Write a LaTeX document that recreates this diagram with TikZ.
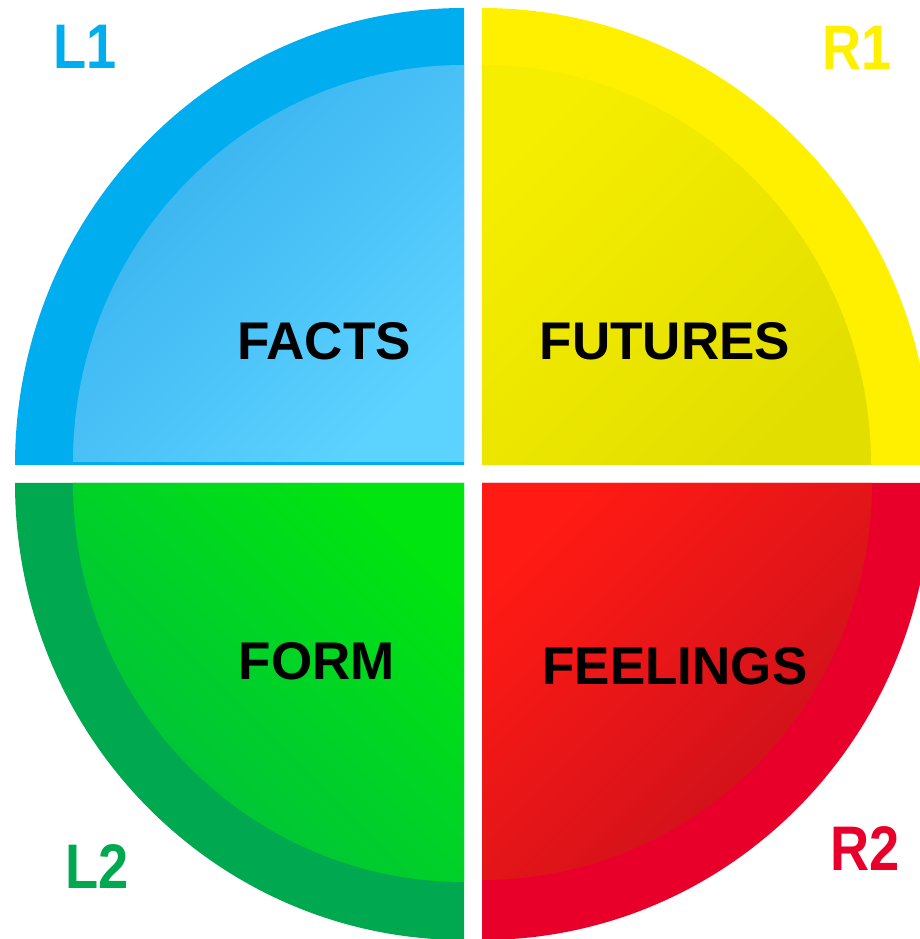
\documentclass[tikz,border=0pt]{standalone}
\usepackage{fontspec}
\setmainfont{Liberation Sans}
\usepackage{tikz}
\definecolor{azul}{HTML}{00AEEF}
\definecolor{amarillo}{HTML}{FFF000}
\definecolor{verde}{HTML}{00A84F}
\definecolor{rojo}{HTML}{E8002A}
\tikzstyle{texto}=[font=\fontsize{53}{60}\selectfont\bfseries, text=black, inner sep=0pt]
\tikzstyle{etiqueta}=[font=\fontsize{63}{70}\selectfont\bfseries, inner sep=0pt, xscale=0.86]

\begin{document}
\begin{tikzpicture}[x=1pt, y=1pt]
        \useasboundingbox (0,0) rectangle (920,939);
        \clip (0,0) rectangle (920,939);

        % cuadrantes exteriores
        \fill[azul] (464,474) -- (15,474) arc[start angle=180, end angle=90, x radius=449, y radius=457] -- cycle;
        \fill[amarillo] (482,474) -- (482,931) arc[start angle=90, end angle=0, x radius=449, y radius=457] -- cycle;
        \fill[verde] (464,456) -- (464,-1) arc[start angle=270, end angle=180, x radius=449, y radius=457] -- cycle;
        \fill[rojo] (482,456) -- (931,456) arc[start angle=0, end angle=-90, x radius=449, y radius=457] -- cycle;

        % cuadrantes interiores
        \shade[top color={rgb,255:red,54;green,176;blue,238}, bottom color={rgb,255:red,92;green,210;blue,255}, shading angle=45]
            (464,477) -- (73,477) arc[start angle=180, end angle=90, x radius=391, y radius=397] -- cycle;
        \shade[top color={rgb,255:red,246;green,238;blue,0}, bottom color={rgb,255:red,226;green,222;blue,0}, shading angle=45]
            (482,474) -- (482,874) arc[start angle=90, end angle=0, x radius=389, y radius=400] -- cycle;
        \shade[top color={rgb,255:red,0;green,228;blue,16}, bottom color={rgb,255:red,0;green,190;blue,64}, shading angle=-45]
            (464,456) -- (464,57) arc[start angle=270, end angle=180, x radius=391, y radius=399] -- cycle;
        \shade[top color={rgb,255:red,255;green,26;blue,20}, bottom color={rgb,255:red,200;green,16;blue,28}, shading angle=45]
            (482,456) -- (872,456) arc[start angle=0, end angle=-90, x radius=390, y radius=397] -- cycle;

        % textos
        \node[texto] (facts) at (324,598) {FACTS};
        \node[texto] (futures) at (665,598) {FUTURES};
        \node[texto] (form) at (317,278) {FORM};
        \node[texto] (feelings) at (675,273) {FEELINGS};

        % etiquetas
        \node[etiqueta, text=azul] (L1) at (85,892) {L1};
        \node[etiqueta, text=amarillo] (R1) at (857,891) {R1};
        \node[etiqueta, text=verde] (L2) at (97,72) {L2};
        \node[etiqueta, text=rojo] (R2) at (865,90) {R2};
    \end{tikzpicture}
\end{document}
